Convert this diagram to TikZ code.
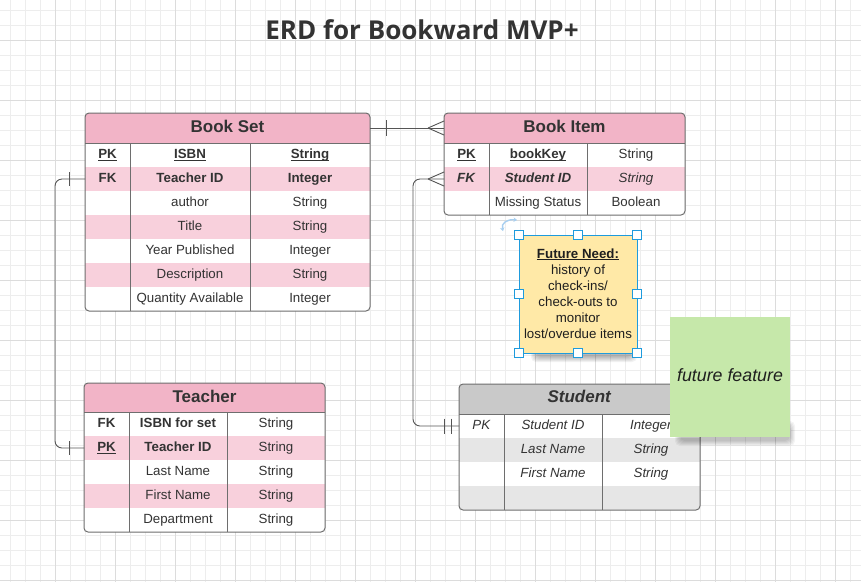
\documentclass[tikz,border=0pt]{standalone}
\usepackage{fontspec}
\setmainfont{Liberation Sans}
\newfontfamily\titlefont{Open Sans}
\usetikzlibrary{calc,arrows.meta}
\definecolor{gridminor}{HTML}{EDEDED}
\definecolor{gridmajor}{HTML}{DCDCDC}
\definecolor{hdrpink}{HTML}{F2B4C7}
\definecolor{rowpink}{HTML}{F8D0DC}
\definecolor{hdrgray}{HTML}{C9C9C9}
\definecolor{rowgray}{HTML}{E6E6E6}
\definecolor{txt}{HTML}{333333}
\definecolor{tborder}{HTML}{6E6E6E}
\definecolor{connc}{HTML}{555555}
\definecolor{noteyellow}{HTML}{FFE9A7}
\definecolor{notegreen}{HTML}{C6E8AA}
\definecolor{selblue}{HTML}{1E9BDD}
\definecolor{rotblue}{HTML}{A8CFF0}
\newcommand\ulx[1]{\setbox0\hbox{#1}\rlap{\rule[-1.8pt]{\wd0}{0.9pt}}\box0}
\newcommand\tabcols[4]{\def\cA{#1}\def\cB{#2}\def\cC{#3}\def\cD{#4}}
\newcommand\erdrow[6]{%
  \node[rowbg, fill=#3, minimum width=\cD-\cA] (#1) at (\cA,#2) {};
  \node[cell] (#1-a) at ({(\cA+\cB)/2},#2+15.8) {#4};
  \node[cell] (#1-b) at ({(\cB+\cC)/2},#2+15.8) {#5};
  \node[cell] (#1-c) at ({(\cC+\cD)/2},#2+15.8) {#6};
}
\tikzset{
  rowbg/.style={draw=none, inner sep=0pt, outer sep=0pt, anchor=north west, minimum height=24pt},
  cell/.style={inner sep=0pt, anchor=base, font=\fontsize{13.3}{15}\selectfont, text=txt},
  hdrtext/.style={inner sep=0pt, anchor=base, font=\fontsize{17}{20}\selectfont\bfseries, text=txt},
  tframe/.style={draw=tborder, line width=1pt, rounded corners=4pt},
  colline/.style={draw=tborder, line width=0.9pt},
  conn/.style={draw=connc, line width=0.9pt},
  handle/.style={draw=selblue, fill=white, line width=1pt, minimum size=9pt, inner sep=0pt},
  notetxt/.style={inner sep=0pt, anchor=base, font=\fontsize{13.3}{15}\selectfont, text=black!88},
}
\begin{document}
\begin{tikzpicture}[x=1pt,y=-1pt]
\useasboundingbox (0,0) rectangle (861,582);
\fill[white] (0,0) rectangle (861,582);
% grid
\foreach \x in {10,25,...,850} \draw[gridminor, line width=1pt] (\x,0) -- (\x,582);
\foreach \y in {10,25,...,580} \draw[gridminor, line width=1pt] (0,\y) -- (861,\y);
\foreach \x in {55,115,...,835} \draw[gridmajor, line width=1pt] (\x,0) -- (\x,582);
\foreach \y in {40,100,...,580} \draw[gridmajor, line width=1pt] (0,\y) -- (861,\y);
% title
\node[font=\titlefont\bfseries\fontsize{26}{30}\selectfont, text=txt, anchor=base, inner sep=0pt] (title) at (422,39.3) {ERD for Bookward MVP+};

% ---------- Book Set ----------
\tabcols{85}{130}{250}{370}
\begin{scope}
\clip[rounded corners=4pt] (85,113) rectangle (370,311);
\node[rowbg, fill=hdrpink, minimum width=285, minimum height=30pt] (bsh) at (85,113) {};
\erdrow{bs1}{143}{white}{\textbf{\ulx{PK}}}{\textbf{\ulx{ISBN}}}{\textbf{\ulx{String}}}
\erdrow{bs2}{167}{rowpink}{\textbf{FK}}{\textbf{Teacher ID}}{\textbf{Integer}}
\erdrow{bs3}{191}{white}{}{author}{String}
\erdrow{bs4}{215}{rowpink}{}{Title}{String}
\erdrow{bs5}{239}{white}{}{Year Published}{Integer}
\erdrow{bs6}{263}{rowpink}{}{Description}{String}
\erdrow{bs7}{287}{white}{}{Quantity Available}{Integer}
\end{scope}
\node[hdrtext] (bsht) at (227.5,132.3) {Book Set};
\draw[colline] (85,143) -- (370,143) (130,143) -- (130,311) (250,143) -- (250,311);
\draw[tframe] (85,113) rectangle (370,311);

% ---------- Book Item ----------
\tabcols{444}{489}{587}{685}
\begin{scope}
\clip[rounded corners=4pt] (444,113) rectangle (685,215);
\node[rowbg, fill=hdrpink, minimum width=241, minimum height=30pt] (bih) at (444,113) {};
\erdrow{bi1}{143}{white}{\textbf{\ulx{PK}}}{\textbf{\ulx{bookKey}}}{String}
\erdrow{bi2}{167}{rowpink}{\textbf{\textit{FK}}}{\textbf{\textit{Student ID}}}{\textit{String}}
\erdrow{bi3}{191}{white}{}{Missing Status}{Boolean}
\end{scope}
\node[hdrtext] (biht) at (564.5,132.3) {Book Item};
\draw[colline] (444,143) -- (685,143) (489,143) -- (489,215) (587,143) -- (587,215);
\draw[tframe] (444,113) rectangle (685,215);

% ---------- Teacher ----------
\tabcols{84}{129}{227}{325}
\begin{scope}
\clip[rounded corners=4pt] (84,383) rectangle (325,532);
\node[rowbg, fill=hdrpink, minimum width=241, minimum height=29pt] (tch) at (84,383) {};
\erdrow{tc1}{412}{white}{\textbf{FK}}{\textbf{ISBN for set}}{String}
\erdrow{tc2}{436}{rowpink}{\textbf{\ulx{PK}}}{\textbf{Teacher ID}}{String}
\erdrow{tc3}{460}{white}{}{Last Name}{String}
\erdrow{tc4}{484}{rowpink}{}{First Name}{String}
\erdrow{tc5}{508}{white}{}{Department}{String}
\end{scope}
\node[hdrtext] (tcht) at (204.5,402) {Teacher};
\draw[colline] (84,412) -- (325,412) (129,412) -- (129,532) (227,412) -- (227,532);
\draw[tframe] (84,383) rectangle (325,532);

% ---------- Student ----------
\tabcols{459}{504}{602}{700}
\begin{scope}[every node/.append style={text=txt!90}]
\clip[rounded corners=4pt] (459,384) rectangle (700,510);
\node[rowbg, fill=hdrgray, minimum width=241, minimum height=30pt] (sth) at (459,384) {};
\erdrow{st1}{414}{white}{\textit{PK}}{\textit{Student ID}}{\textit{Integer}}
\erdrow{st2}{438}{rowgray}{}{\textit{Last Name}}{\textit{String}}
\erdrow{st3}{462}{white}{}{\textit{First Name}}{\textit{String}}
\erdrow{st4}{486}{rowgray}{}{}{}
\end{scope}
\node[hdrtext] (stht) at (579.5,402.7) {\textit{Student}};
\draw[colline] (459,414) -- (700,414) (504,414) -- (504,510) (602,414) -- (602,510);
\draw[tframe] (459,384) rectangle (700,510);

% ---------- connectors ----------
\draw[conn] (bsh.east) -- (bih.west);
\draw[conn] ($(bsh.east)+(16,-8)$) -- ($(bsh.east)+(16,8)$);
\draw[conn] ($(bih.west)+(-16,0)$) -- ($(bih.west)+(0,-7)$)
            ($(bih.west)+(-16,0)$) -- ($(bih.west)+(0,7)$);

\draw[conn, rounded corners=7pt] (bs2.west) -- ++(-30,0) |- (tc2.west);
\draw[conn] ($(bs2.west)+(-16,-7)$) -- ($(bs2.west)+(-16,7)$);
\draw[conn] ($(tc2.west)+(-15,-7)$) -- ($(tc2.west)+(-15,7)$);

\draw[conn, rounded corners=7pt] (bi2.west) -- ++(-31,0) |- (st1.west);
\draw[conn] ($(bi2.west)+(-16,0)$) -- ($(bi2.west)+(0,-7)$)
            ($(bi2.west)+(-16,0)$) -- ($(bi2.west)+(0,7)$);
\draw[conn] ($(st1.west)+(-15,-7.5)$) -- ($(st1.west)+(-15,7.5)$)
            ($(st1.west)+(-7.5,-7.5)$) -- ($(st1.west)+(-7.5,7.5)$);

% ---------- yellow note ----------
\foreach \i in {0,...,5}
  \fill[black, opacity=0.05, rounded corners=5pt] (536-\i,344-\i) rectangle (632+\i,357+\i);
\node[draw=selblue, fill=noteyellow, line width=0.9pt, minimum width=118pt, minimum height=118pt, inner sep=0pt] (note) at (578,294) {};
\node[notetxt] (nt0) at (578,258.3) {\textbf{\ulx{Future Need:}}};
\foreach \t [count=\i] in {history of, check-ins/, check-outs to, monitor, lost/overdue items}
  \node[notetxt] (nt\i) at (578,{258.3+16*\i}) {\t};
\foreach \hx/\hy [count=\k] in {519/235,578/235,637/235,519/294,637/294,519/353,578/353,637/353}
  \node[handle] (hd\k) at (\hx,\hy) {};
\draw[rotblue, line width=1.4pt, {Stealth[length=3.5pt,width=4.5pt]}-{Stealth[length=3.5pt,width=4.5pt]}]
  (503,231) .. controls (501,223) and (507,219) .. (517,220);

% ---------- green note ----------
\foreach \i in {0,...,5}
  \fill[black, opacity=0.045, rounded corners=5pt] (680-\i,426-\i) rectangle (790+\i,441+\i);
\node[fill=notegreen, minimum width=120pt, minimum height=120pt, inner sep=0pt] (green) at (730,377) {};
\node[inner sep=0pt, anchor=base, font=\fontsize{17.8}{20}\selectfont\itshape, text=black!88] (greentxt) at (730,381.5) {future feature};
\end{tikzpicture}
\end{document}
